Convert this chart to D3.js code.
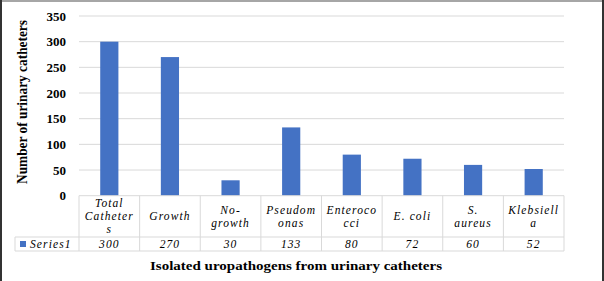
<!DOCTYPE html>
<html>
<head>
<meta charset="utf-8">
<script src="https://d3js.org/d3.v7.min.js"></script>
<style>
  body { margin: 0; background: white; }
  svg { display: block; }
  svg text { font-family: 'Liberation Serif', 'Times New Roman', Times, serif; fill: #000; }
  .tick-label { font-weight: bold; font-size: 13px; }
  .cell { font-style: italic; font-size: 11.5px; letter-spacing: 1.1px; }
  .title { font-weight: bold; font-size: 13.5px; }
</style>
</head>
<body>
<div id="holder"></div>
<script>
  // Data
  const categories = ['Total Catheters', 'Growth', 'No-growth', 'Pseudomonas', 'Enterococci', 'E. coli', 'S. aureus', 'Klebsiella'];
  const catLines = [['Total', 'Catheter', 's'], ['Growth'], ['No-', 'growth'], ['Pseudom', 'onas'], ['Enteroco', 'cci'], ['E. coli'], ['S.', 'aureus'], ['Klebsiell', 'a']];
  const values = [300, 270, 30, 133, 80, 72, 60, 52];
  const seriesName = 'Series1';
  const yTicks = [0, 50, 100, 150, 200, 250, 300, 350];

  const w = 604, h = 281;
  const plotLeft = 79, plotRight = 564, plotTop = 16, plotBottom = 195.7;
  const rowCat = 237, rowSer = 251;
  const gridColor = '#d9d9d9';
  const barColor = '#4472c4';

  const svg = d3.select('#holder').append('svg').attr('width', w).attr('height', h);

  // Frame
  svg.append('rect').attr('x', 0).attr('y', 0).attr('width', w).attr('height', 2).attr('fill', '#a6a6a6');
  svg.append('rect').attr('x', 0).attr('y', 0).attr('width', 2).attr('height', h).attr('fill', '#333');
  svg.append('rect').attr('x', 602).attr('y', 0).attr('width', 2).attr('height', h).attr('fill', '#333');

  const x = d3.scaleBand().domain(categories).range([plotLeft, plotRight]).padding(0);
  const y = d3.scaleLinear().domain([0, 350]).range([plotBottom, plotTop]);

  // Gridlines
  svg.append('g')
    .selectAll('line')
    .data(yTicks.filter((d) => d > 0))
    .enter()
    .append('line')
    .attr('x1', plotLeft)
    .attr('x2', plotRight)
    .attr('y1', (d) => y(d))
    .attr('y2', (d) => y(d))
    .attr('stroke', gridColor)
    .attr('stroke-width', 1);

  // Y axis labels
  const yAxis = d3.axisLeft(y).tickValues(yTicks).tickSize(0).tickPadding(13);
  const gy = svg.append('g').attr('transform', 'translate(' + plotLeft + ',0)').call(yAxis);
  gy.select('.domain').remove();
  gy.attr('font-family', null).attr('font-size', null);
  gy.selectAll('text').attr('class', 'tick-label');

  // Bars
  const barW = x.bandwidth() * 0.3;
  svg.append('g')
    .selectAll('rect')
    .data(values)
    .enter()
    .append('rect')
    .attr('x', (d, i) => x(categories[i]) + (x.bandwidth() - barW) / 2)
    .attr('y', (d) => y(d))
    .attr('width', barW)
    .attr('height', (d) => y(0) - y(d))
    .attr('fill', barColor);

  // Data table
  const table = svg.append('g').attr('stroke', gridColor).attr('stroke-width', 1).attr('fill', 'none');
  table.append('line').attr('x1', plotLeft).attr('x2', plotRight).attr('y1', plotBottom).attr('y2', plotBottom);
  table.append('line').attr('x1', 15).attr('x2', plotRight).attr('y1', rowCat).attr('y2', rowCat);
  table.append('line').attr('x1', 15).attr('x2', plotRight).attr('y1', rowSer).attr('y2', rowSer);
  table.append('line').attr('x1', 15).attr('x2', 15).attr('y1', rowCat).attr('y2', rowSer);
  categories.forEach((c) => {
    table.append('line').attr('x1', x(c)).attr('x2', x(c)).attr('y1', plotBottom).attr('y2', rowSer);
  });
  table.append('line').attr('x1', plotRight).attr('x2', plotRight).attr('y1', plotBottom).attr('y2', rowSer);

  // Category labels and values
  categories.forEach((c, i) => {
    const lines = catLines[i];
    const cx = x(c) + x.bandwidth() / 2;
    const mid = (plotBottom + rowCat) / 2;
    lines.forEach((ln, j) => {
      svg.append('text')
        .attr('class', 'cell')
        .attr('x', cx)
        .attr('y', mid + (j - (lines.length - 1) / 2) * 13 + 4)
        .attr('text-anchor', 'middle')
        .text(ln);
    });
    svg.append('text')
      .attr('class', 'cell')
      .attr('x', cx)
      .attr('y', (rowCat + rowSer) / 2 + 4)
      .attr('text-anchor', 'middle')
      .text(values[i]);
  });

  // Legend key in table
  svg.append('rect')
    .attr('x', 20)
    .attr('y', (rowCat + rowSer) / 2 - 3)
    .attr('width', 6)
    .attr('height', 6)
    .attr('fill', barColor);
  svg.append('text')
    .attr('class', 'cell')
    .attr('x', 30)
    .attr('y', (rowCat + rowSer) / 2 + 4)
    .text(seriesName);

  // Axis titles
  svg.append('text')
    .attr('class', 'title')
    .attr('x', 296)
    .attr('y', 270)
    .attr('text-anchor', 'middle')
    .attr('textLength', 292)
    .attr('lengthAdjust', 'spacingAndGlyphs')
    .text('Isolated uropathogens from urinary catheters');

  svg.append('text')
    .attr('class', 'title')
    .style('font-size', '15px')
    .attr('transform', 'translate(27,102) rotate(-90)')
    .attr('text-anchor', 'middle')
    .attr('textLength', 164)
    .attr('lengthAdjust', 'spacingAndGlyphs')
    .text('Number of urinary catheters');
</script>
</body>
</html>
